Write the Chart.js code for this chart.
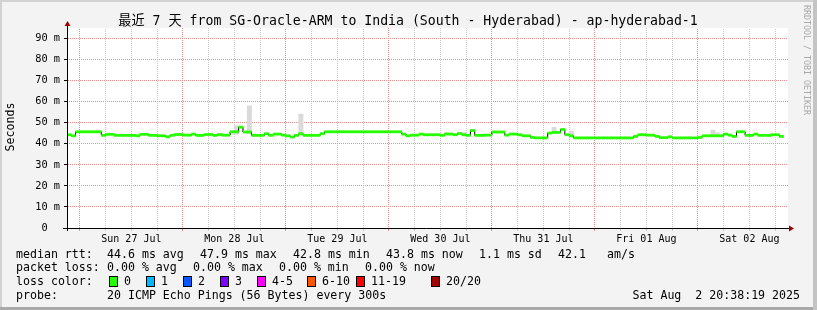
<!DOCTYPE html>
<html>
<head>
<meta charset="UTF-8">
<title>SmokePing 7 days SG-Oracle-ARM to ap-hyderabad-1</title>
<script src="https://cdn.jsdelivr.net/npm/chart.js@4.4.0/dist/chart.umd.min.js"></script>
<style>body{margin:0;background:#f3f3f3}</style>
</head>
<body>
<canvas id="myChart" width="817" height="310"></canvas>
<script>
// x = hours since Sat 26 Jul 21:00, one median rtt (ms) per hour
var medianRtt = [
  44.3, 43.8, 45.7, 45.7, 45.7, 45.7, 45.7, 45.7, 44.0, 44.5, 44.5, 44.0,
  44.0, 44.0, 44.0, 44.0, 43.8, 44.5, 44.5, 44.0, 44.0, 43.8, 43.8, 43.3,
  44.0, 44.4, 44.4, 44.1, 44.1, 44.6, 44.0, 44.0, 44.4, 44.4, 44.0, 44.4,
  44.1, 44.1, 45.7, 45.7, 47.9, 45.6, 45.6, 44.0, 44.0, 44.0, 44.8, 44.0,
  44.6, 44.6, 44.1, 43.8, 43.2, 44.0, 44.8, 44.0, 44.0, 44.0, 44.0, 44.8,
  45.7, 45.7, 45.7, 45.7, 45.7, 45.7, 45.7, 45.7, 45.7, 45.7, 45.7, 45.7,
  45.7, 45.7, 45.7, 45.7, 45.7, 45.7, 44.6, 43.8, 44.1, 44.1, 44.6, 44.3,
  44.3, 44.3, 44.3, 44.0, 44.6, 44.6, 44.3, 44.9, 44.3, 44.0, 46.3, 44.0,
  44.0, 44.1, 44.1, 45.6, 45.6, 45.6, 44.1, 44.6, 44.6, 44.3, 43.8, 43.8,
  43.0, 42.8, 42.8, 42.8, 45.1, 45.4, 45.4, 46.8, 44.3, 43.8, 42.8, 42.8,
  42.8, 42.8, 42.8, 42.8, 42.8, 42.8, 42.8, 42.8, 42.8, 42.8, 42.8, 42.8,
  43.5, 44.3, 44.3, 44.1, 44.1, 43.5, 42.9, 42.9, 43.3, 42.8, 42.8, 42.8,
  42.8, 42.8, 42.8, 43.0, 43.8, 43.8, 43.8, 43.8, 43.8, 44.6, 44.1, 43.5,
  45.7, 45.7, 44.0, 44.0, 44.6, 44.0, 44.0, 44.0, 44.3, 44.3, 43.5
];
// ping spread ("smoke") where it shows above/below the median
var smokeHours = [38, 39, 42, 54, 88, 92, 113, 117, 150, 151];
var smokeLow   = [44.5, 44.5, 44.8, 44.0, 44.6, 44.3, 45.0, 43.8, 43.8, 43.8];
var smokeHigh  = [46.2, 48.6, 58.0, 54.1, 45.4, 45.4, 47.8, 46.0, 46.5, 45.2];

var dayTicks  = [15, 39, 63, 87, 111, 135, 159];
var dayLabels = ['Sun 27 Jul', 'Mon 28 Jul', 'Tue 29 Jul', 'Wed 30 Jul', 'Thu 31 Jul', 'Fri 01 Aug', 'Sat 02 Aug'];
var yMax = 95;

var title = '最近 7 天 from SG-Oracle-ARM to India (South - Hyderabad) - ap-hyderabad-1';
var rttRow  = [['median rtt:', 16], ['44.6 ms avg', 107], ['47.9 ms max', 200], ['42.8 ms min', 293], ['43.8 ms now', 386], ['1.1 ms sd', 479], ['42.1', 558], ['am/s', 607]];
var lossRow = [['packet loss:', 16], ['0.00 % avg', 107], ['0.00 % max', 193], ['0.00 % min', 279], ['0.00 % now', 365]];
var lossColors = [['0', '#26ff00', 109], ['1', '#00b8ff', 146], ['2', '#0059ff', 183], ['3', '#7e00ff', 220],
                  ['4-5', '#ff00ff', 257], ['6-10', '#ff5500', 307], ['11-19', '#ff0000', 356], ['20/20', '#a10000', 431]];

var MONO = "'DejaVu Sans Mono', 'Noto Sans CJK SC', monospace";
var MAJOR = '#f08c8c', MINOR = '#c8c8c8';

// rrdtool style dotted grid: a 2x2 checker tile used as stroke colour
function dots(col) {
  var t = document.createElement('canvas');
  t.width = 2; t.height = 2;
  var g = t.getContext('2d');
  g.fillStyle = col;
  g.fillRect(0, 0, 1, 1);
  g.fillRect(1, 1, 1, 1);
  return g.createPattern(t, 'repeat');
}
var MAJOR_DOTS = dots(MAJOR), MINOR_DOTS = dots(MINOR);

var rrdFrame = {
  id: 'rrdFrame',
  beforeDraw: function(chart) {
    var c = chart.ctx, a = chart.chartArea;
    c.save();
    c.fillStyle = '#f3f3f3';
    c.fillRect(0, 0, 817, 310);
    c.fillStyle = '#d2d2d2';
    c.fillRect(0, 0, 817, 2);
    c.fillRect(0, 0, 2, 310);
    c.fillStyle = '#a9a9a9';
    c.fillRect(0, 307, 817, 3);
    c.fillStyle = '#c4c4c4';
    c.fillRect(813, 0, 4, 310);
    c.fillStyle = '#ffffff';
    c.fillRect(a.left, a.top, a.right - a.left, a.bottom - a.top);
    c.restore();
  },
  afterDraw: function(chart) {
    var c = chart.ctx, a = chart.chartArea;
    c.save();
    // axes with arrows
    c.strokeStyle = '#000';
    c.lineWidth = 1;
    c.beginPath();
    c.moveTo(a.left - 4, a.bottom + 0.5);
    c.lineTo(a.right + 2, a.bottom + 0.5);
    c.moveTo(a.left + 0.5, a.bottom + 3);
    c.lineTo(a.left + 0.5, a.top - 4);
    c.stroke();
    c.fillStyle = '#a00000';
    c.beginPath();
    c.moveTo(a.right + 6, a.bottom + 0.5);
    c.lineTo(a.right + 1, a.bottom - 2.5);
    c.lineTo(a.right + 1, a.bottom + 3.5);
    c.fill();
    c.beginPath();
    c.moveTo(a.left + 0.5, a.top - 7);
    c.lineTo(a.left - 2.5, a.top - 2);
    c.lineTo(a.left + 3.5, a.top - 2);
    c.fill();

    c.fillStyle = '#000';
    c.textBaseline = 'middle';
    c.font = '13.2px ' + MONO;
    c.textAlign = 'center';
    c.fillText(title, 408, 22);

    c.font = '11.6px ' + MONO;
    c.textAlign = 'left';
    rttRow.forEach(function(t) { c.fillText(t[0], t[1], 254.5); });
    lossRow.forEach(function(t) { c.fillText(t[0], t[1], 268.3); });
    c.fillText('loss color:', 16, 282);
    lossColors.forEach(function(t) {
      c.fillStyle = t[1];
      c.fillRect(t[2], 276, 8, 10);
      c.strokeStyle = '#000';
      c.strokeRect(t[2] + 0.5, 276.5, 8, 10);
      c.fillStyle = '#000';
      c.fillText(t[0], t[2] + 15, 282);
    });
    c.fillText('probe:', 16, 296);
    c.fillText('20 ICMP Echo Pings (56 Bytes) every 300s', 107, 296);
    c.textAlign = 'right';
    c.fillText('Sat Aug  2 20:38:19 2025', 800, 296);

    c.textAlign = 'center';
    c.save();
    c.translate(11, 127);
    c.rotate(-Math.PI / 2);
    c.fillText('Seconds', 0, 0);
    c.restore();

    c.save();
    c.fillStyle = '#a8a8a8';
    c.font = '8.3px ' + MONO;
    c.textAlign = 'left';
    c.translate(806, 5);
    c.rotate(Math.PI / 2);
    c.fillText('RRDTOOL / TOBI OETIKER', 0, 0);
    c.restore();
    c.restore();
  }
};

function isDay(c) { return c.tick && (c.tick.value - 3) % 24 === 0; }
function isTen(c) { return c.tick && c.tick.value % 10 === 0; }

var ctx = document.getElementById('myChart').getContext('2d');
var chart = new Chart(ctx, {
  type: 'line',
  data: {
    datasets: [{
      type: 'bar',
      data: smokeHours.map(function(h, i) { return { x: h + 0.5, y: [smokeLow[i], smokeHigh[i]] }; }),
      backgroundColor: '#dadada',
      barThickness: 4.3,
      order: 3
    }, {
      data: medianRtt.map(function(v, i) { return { x: i + 0.5, y: v }; }),
      stepped: 'middle',
      borderColor: '#000',
      borderWidth: 1,
      pointStyle: 'line',
      pointRadius: 2.3,
      pointBorderWidth: 2.8,
      pointBorderColor: '#26ff00',
      order: 1
    }]
  },
  options: {
    responsive: false,
    animation: false,
    events: [],
    layout: { padding: { top: 28, right: 29, left: 0, bottom: 0 } },
    plugins: { legend: { display: false }, title: { display: false }, tooltip: { enabled: false } },
    scales: {
      x: {
        type: 'linear',
        min: 0,
        max: 168,
        offset: false,
        afterBuildTicks: function(s) {
          var t = [];
          for (var h = 3; h < 168; h += 6) t.push({ value: h });
          s.ticks = t;
        },
        afterFit: function(s) { s.height = 82; },
        grid: {
          offset: false,
          color: function(c) { return isDay(c) ? MAJOR_DOTS : MINOR_DOTS; },
          tickColor: function(c) { return isDay(c) ? MAJOR : MINOR; },
          tickLength: 3
        },
        border: { display: false },
        ticks: {
          autoSkip: false,
          maxRotation: 0,
          padding: 2,
          color: '#000',
          font: { family: MONO, size: 10 },
          callback: function(v) { var k = dayTicks.indexOf(v); return k >= 0 ? dayLabels[k] : ''; }
        }
      },
      y: {
        min: 0,
        max: yMax,
        afterFit: function(s) { s.width = 67; },
        grid: {
          color: function(c) { return isTen(c) ? MAJOR_DOTS : MINOR_DOTS; },
          tickColor: function(c) { return isTen(c) ? '#000' : MINOR; },
          tickLength: 3
        },
        border: { display: false },
        ticks: {
          stepSize: 5,
          padding: 4,
          color: '#000',
          font: { family: MONO, size: 10.3 },
          callback: function(v) { return v % 10 ? '' : (v === 0 ? '0  ' : v + ' m'); }
        }
      }
    }
  },
  plugins: [rrdFrame]
});
</script>
</body>
</html>
